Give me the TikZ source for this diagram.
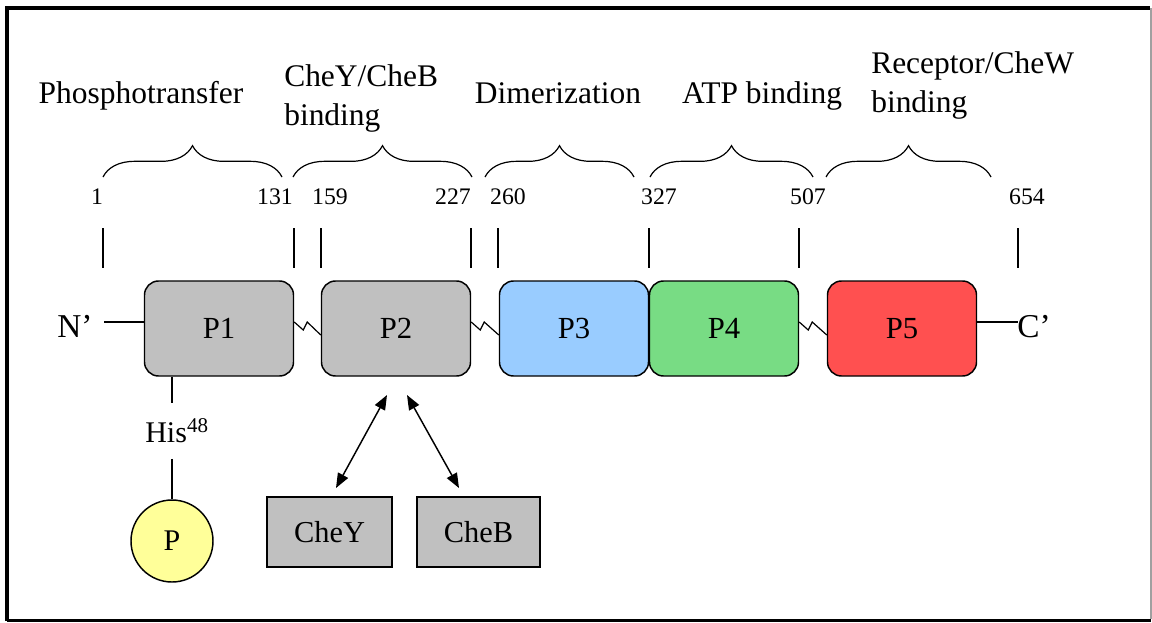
\documentclass[tikz,border=0pt]{standalone}
\usepackage{fontspec}
\setmainfont{Liberation Serif}
\usetikzlibrary{arrows.meta,decorations.pathreplacing}
\definecolor{boxgray}{HTML}{C0C0C0}
\definecolor{p3blue}{HTML}{99CCFF}
\definecolor{p4green}{HTML}{78DC84}
\definecolor{p5red}{HTML}{FF5050}
\definecolor{pyellow}{HTML}{FFFF99}
\definecolor{framegray}{HTML}{A0A0A0}
\begin{document}
\begin{tikzpicture}[x=0.75pt,y=-0.75pt,
  every node/.style={inner sep=0pt},
  hdr/.style={font=\fontsize{23.6}{29}\selectfont},
  dombox/.style={draw, line width=1.1pt, rounded corners=10.5pt, minimum width=111.75pt, minimum height=71.25pt, font=\fontsize{23}{27}\selectfont},
  partner/.style={draw, line width=1.1pt, fill=boxgray, minimum height=52.5pt, font=\fontsize{22.8}{27}\selectfont},
  numlab/.style={font=\fontsize{17.8}{21}\selectfont, anchor=base},
  tickline/.style={line width=1pt},
  bracestyle/.style={decorate, decoration={brace, amplitude=23.5pt}, line width=0.9pt},
  linker/.style={line width=0.9pt},
  dblarrow/.style={line width=1.1pt, {Triangle[length=11pt,width=8.5pt]}-{Triangle[length=11pt,width=8.5pt]}},
  termlab/.style={font=\fontsize{25}{30}\selectfont}
]
\useasboundingbox (0,0) rectangle (1152,622);
% frame
\fill[white] (0,0) rectangle (1152,622);
\draw[line width=3pt] (7,620.5) -- (7,8) -- (1150,8);
\draw[line width=2.2pt] (7,620.5) -- (1151,620.5);
\draw[line width=1.1pt, framegray] (1150.8,8) -- (1150.8,619);

% headers
\node[hdr, anchor=base] (hPhos) at (141,103) {Phosphotransfer};
\node[hdr, anchor=base west, align=left] (hCheYB) at (284,125) {CheY/CheB\\binding};
\node[hdr, anchor=base] (hDim) at (558,103) {Dimerization};
\node[hdr, anchor=base] (hATP) at (762,103) {ATP binding};
\node[hdr, anchor=base west, align=left] (hRec) at (871,112) {Receptor/CheW\\binding};

% braces
\draw[bracestyle] (103,177) -- (282,177);
\draw[bracestyle] (293,177) -- (472,177);
\draw[bracestyle] (485,177) -- (634,177);
\draw[bracestyle] (650,177) -- (813,177);
\draw[bracestyle] (826,177) -- (991,177);

% residue numbers
\node[numlab] (n1) at (97,204) {1};
\node[numlab] (n131) at (275,204) {131};
\node[numlab] (n159) at (330,204) {159};
\node[numlab] (n227) at (453,204) {227};
\node[numlab] (n260) at (508,204) {260};
\node[numlab] (n327) at (659,204) {327};
\node[numlab] (n507) at (808,204) {507};
\node[numlab] (n654) at (1027,204) {654};

% ticks
\foreach \tx in {103,294,321,471,498,649,799,1018}
  \draw[tickline] (\tx,228) -- (\tx,268);

% domains
\node[dombox, fill=boxgray] (P1) at (219,328.5) {P1};
\node[dombox, fill=boxgray] (P2) at (396,328.5) {P2};
\node[dombox, fill=p3blue] (P3) at (574,328.5) {P3};
\node[dombox, fill=p4green] (P4) at (724,328.5) {P4};
\node[dombox, fill=p5red] (P5) at (902,328.5) {P5};

% termini
\node[termlab, anchor=base] (Nt) at (75,337) {N’};
\node[termlab, anchor=base] (Ct) at (1034,337) {C’};
\coordinate (nEnd) at (104,322);
\coordinate (cEnd) at (1018,322);
\draw[line width=1.1pt] (nEnd) -- (nEnd -| P1.west);
\draw[line width=1.1pt] (cEnd -| P5.east) -- (cEnd);

% linkers
\draw[linker] (P1.east |- nEnd) -- ++(9,8) -- ++(4,-8) -- (P2.west |- 0,335);
\draw[linker] (P2.east |- nEnd) -- ++(9,8) -- ++(4,-8) -- (P3.west |- 0,335);
\draw[linker] (P4.east |- nEnd) -- ++(9,8) -- ++(4,-8) -- (P5.west |- 0,335);

% His / phosphate
\node[draw, line width=1.1pt, circle, fill=pyellow, minimum size=61.5pt, font=\fontsize{22.5}{27}\selectfont] (Pc) at (172,541) {P};
\node[minimum height=41.25pt, font=\fontsize{22.5}{27}\selectfont] (His) at (177,431) {His\textsuperscript{48}};
\draw[line width=1.1pt] (Pc.north |- P1.south) -- (Pc.north |- His.north);
\draw[line width=1.1pt] (Pc.north |- His.south) -- (Pc.north);

% partners
\node[partner, minimum width=93.75pt] (CheY) at (329.5,532) {CheY};
\node[partner, minimum width=92.25pt] (CheB) at (478.5,532) {CheB};
\coordinate (a1) at (387,395);
\coordinate (a2) at (336,488);
\coordinate (b1) at (407,395);
\coordinate (b2) at (459,488);
\draw[dblarrow] (a1) -- (a2);
\draw[dblarrow] (b1) -- (b2);
\end{tikzpicture}
\end{document}
